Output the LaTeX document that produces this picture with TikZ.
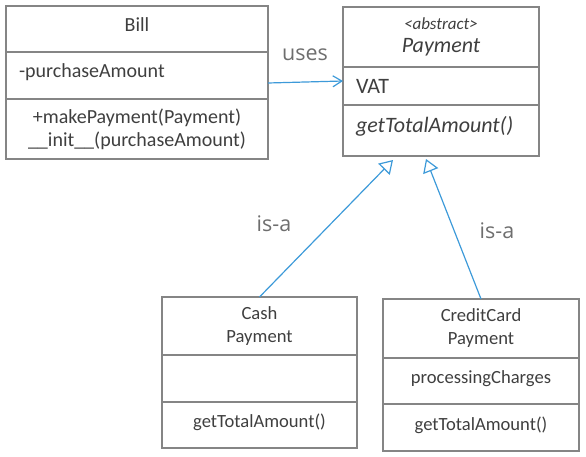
\documentclass[tikz,border=0pt]{standalone}
\usepackage{fontspec}
\setmainfont{Carlito}
\newfontfamily\labelfont{Open Sans}
\usepackage{tikz}
\usetikzlibrary{arrows.meta,calc}
\definecolor{boxgrey}{HTML}{858585}
\definecolor{txtgrey}{HTML}{3F3F3F}
\definecolor{lblgrey}{HTML}{6E6E6E}
\definecolor{linkblue}{HTML}{3D9AD9}
\tikzset{
  cell/.style={draw=boxgrey, line width=1.8pt, inner sep=0pt, outer sep=0pt, anchor=north west, align=center, text=txtgrey},
  oneline/.style={text height=14pt, text depth=9pt},
  uses/.style={draw=linkblue, line width=1.2pt, -{Straight Barb[length=9pt,width=11pt]}},
  isa/.style={draw=linkblue, line width=1.2pt, -{Triangle[open,length=13pt,width=16pt,fill=white]}},
  lbl/.style={text=lblgrey, font=\labelfont\fontsize{21.5}{26}\selectfont}
}

\begin{document}
\begin{tikzpicture}[x=1pt,y=-1pt]
\useasboundingbox (0,0) rectangle (586,457);
\node[cell, oneline, minimum width=262pt, minimum height=46pt, font=\fontsize{20}{23}\selectfont] (billname) at (6,6) {Bill};
\node[cell, oneline, text width=236pt, inner xsep=13pt, minimum height=47pt, align=left, font=\fontsize{20}{23}\selectfont] (billattr) at (6,52) {-purchaseAmount};
\node[cell, minimum width=262pt, minimum height=60pt, font=\fontsize{20}{23}\selectfont] (billops) at (6,99) {+makePayment(Payment)\\\_\_init\_\_(purchaseAmount)};

\node[cell, minimum width=196pt, minimum height=60pt, font=\itshape\fontsize{22}{25}\selectfont] (payname) at (343,7) {{\fontsize{17}{20}\selectfont<abstract>}\\[-2pt]Payment};
\node[cell, text width=170pt, inner xsep=13pt, minimum height=38pt, align=left, font=\fontsize{22}{25}\selectfont] (payattr) at (343,67) {VAT};
\node[cell, oneline, text width=170pt, inner xsep=13pt, minimum height=51pt, align=left, font=\itshape\fontsize{22}{25}\selectfont] (payops) at (343,105) {getTotalAmount()};

\node[cell, minimum width=195pt, minimum height=58pt, font=\fontsize{18.6}{23}\selectfont] (cashname) at (162,297) {Cash\\Payment};
\node[cell, minimum width=195pt, minimum height=47pt] (cashattr) at (162,355) {};
\node[cell, oneline, minimum width=195pt, minimum height=46pt, font=\fontsize{18.6}{23}\selectfont] (cashops) at (162,402) {getTotalAmount()};

\node[cell, minimum width=196pt, minimum height=59pt, font=\fontsize{18.6}{23}\selectfont] (ccname) at (383,299) {CreditCard\\Payment};
\node[cell, oneline, minimum width=196pt, minimum height=46pt, font=\fontsize{18.6}{23}\selectfont] (ccattr) at (383,358) {processingCharges};
\node[cell, oneline, minimum width=196pt, minimum height=47pt, font=\fontsize{18.6}{23}\selectfont] (ccops) at (383,404) {getTotalAmount()};

\draw[uses] ([yshift=-7.5pt]billattr.east) -- ([yshift=5pt]payattr.west);
\draw[isa] (cashname.north) -- ([xshift=-48pt,yshift=-4pt]payops.south);
\draw[isa] (ccname.north) -- ([xshift=-15pt,yshift=-3pt]payops.south);

\node[lbl] (useslbl) at (305,55) {uses};
\node[lbl] (isacash) at (274,224) {is-a};
\node[lbl] (isacc) at (497,231) {is-a};
\end{tikzpicture}
\end{document}
